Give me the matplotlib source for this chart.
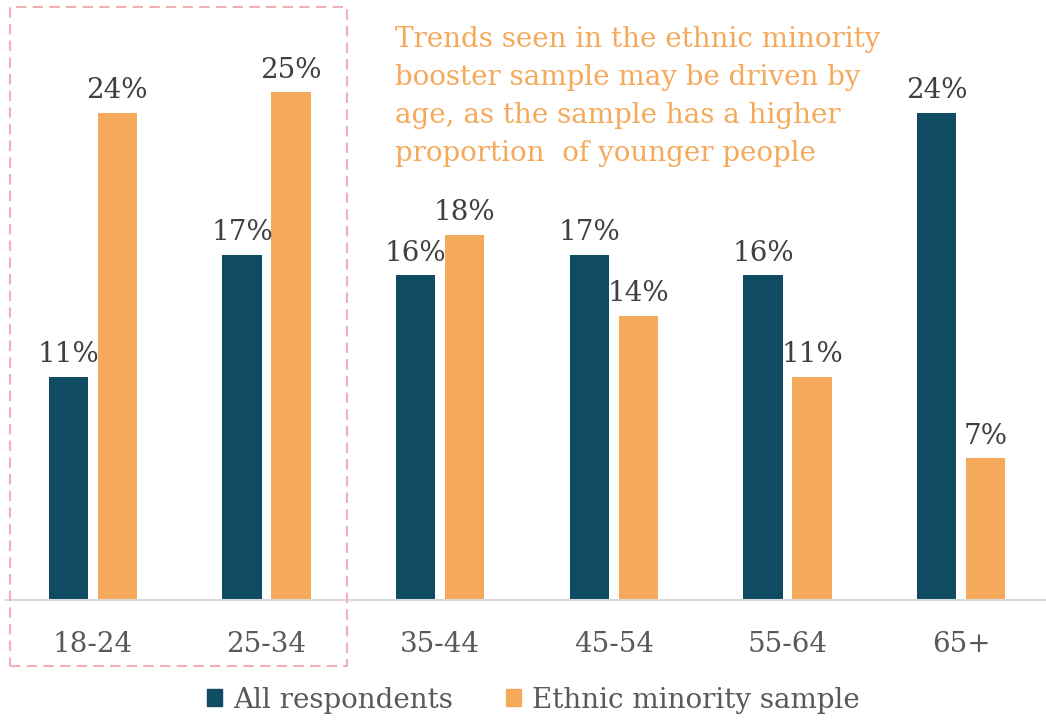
import matplotlib
matplotlib.use("Agg")
import matplotlib.pyplot as plt
from matplotlib.patches import Patch, Rectangle
import numpy as np

# Age groups and share of each sample (%)
age_groups = ["18-24", "25-34", "35-44", "45-54", "55-64", "65+"]
all_respondents = [11, 17, 16, 17, 16, 24]
ethnic_minority = [24, 25, 18, 14, 11, 7]

dark = "#0F4C64"
orange = "#F5A95A"
plt.rcParams["font.family"] = ["DejaVu Serif"]

fig = plt.figure(figsize=(10.46, 7.21), dpi=100)
ax = fig.add_axes([6 / 1046, 121 / 721, 1042 / 1046, 600 / 721])

x = np.arange(len(age_groups))
w = 0.225
off = 0.141
b1 = ax.bar(x - off, all_respondents, w, color=dark)
b2 = ax.bar(x + off, ethnic_minority, w, color=orange)

for bars, vals in ((b1, all_respondents), (b2, ethnic_minority)):
    for bar, v in zip(bars, vals):
        ax.annotate(f"{v}%", (bar.get_x() + bar.get_width() / 2, v),
                    xytext=(0, 6), textcoords="offset points",
                    ha="center", va="bottom", fontsize=20, color="#404040")

ax.set_xlim(-0.5, 5.5)
ax.set_ylim(0, 29.55)
ax.set_xticks(x)
ax.set_xticklabels(age_groups, fontsize=20, color="#595959")
ax.tick_params(axis="x", length=0, pad=22)
ax.set_yticks([])
for s in ["top", "right", "left"]:
    ax.spines[s].set_visible(False)
ax.spines["bottom"].set_color("#D9D9D9")
ax.spines["bottom"].set_linewidth(1.5)

# note about the booster sample
fig.text(395 / 1046, 1 - 26 / 721,
         "Trends seen in the ethnic minority\nbooster sample may be driven by\n"
         "age, as the sample has a higher\nproportion  of younger people",
         color=orange, fontsize=20, ha="left", va="top", linespacing=1.52)

# dashed box around the two youngest groups
fig.patches.append(Rectangle((10 / 1046, 55 / 721), 337 / 1046, 659 / 721,
                             transform=fig.transFigure, fill=False,
                             edgecolor="#F4AEB5", linestyle=(0, (5, 3)),
                             linewidth=1.5))

handles = [Patch(color=dark, label="All respondents"),
           Patch(color=orange, label="Ethnic minority sample")]
fig.legend(handles=handles, loc="center", bbox_to_anchor=(0.51, 0.029),
           ncol=2, frameon=False, fontsize=20, handlelength=0.55,
           handleheight=0.55, handletextpad=0.4, columnspacing=1.9,
           labelcolor="#595959")

fig.savefig("out.png", dpi=100)
